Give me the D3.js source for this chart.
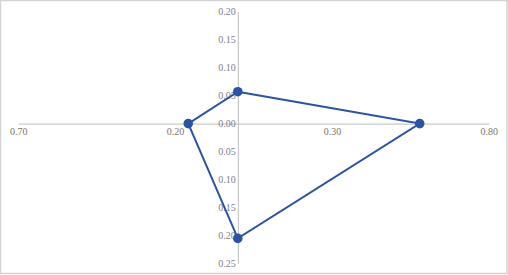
<!DOCTYPE html>
<html>
<head>
<meta charset="utf-8">
<script src="https://cdn.jsdelivr.net/npm/d3@7"></script>
<style>
  body { margin: 0; background: #fff; }
  svg text { font-family: "Liberation Serif", "DejaVu Serif", serif; }
</style>
</head>
<body>
<svg id="chart" width="508" height="275"></svg>
<script>
// --------------------------
// DATA
// --------------------------
const xValues = [0, 0.58, 0, -0.158];
const yValues = [0.057, 0, -0.205, 0];
const xTicks = [-0.70, -0.20, 0.30, 0.80];
const yTicks = [0.20, 0.15, 0.10, 0.05, 0.00, -0.05, -0.10, -0.15, -0.20, -0.25];

const points = xValues.map((x, i) => ({ x: x, y: yValues[i] }));

// --------------------------
// CHART
// --------------------------
const svg = d3.select("#chart");
const width = +svg.attr("width");
const height = +svg.attr("height");

// outer frame
svg.append("rect")
    .attr("x", 0.5).attr("y", 0.5)
    .attr("width", width - 1.5).attr("height", height - 2)
    .attr("fill", "none")
    .attr("stroke", "#d4d4d4")
    .attr("stroke-width", 1.5);

const x = d3.scaleLinear()
    .domain([-0.70, 0.80])
    .range([18.3, 488.7]);

const y = d3.scaleLinear()
    .domain([-0.25, 0.20])
    .range([263.6, 11.6]);

const fmt = d => d3.format(".2f")(Math.abs(d));

// x axis (through y = 0)
const xAxis = svg.append("g")
    .attr("transform", `translate(0,${y(0)})`)
    .call(d3.axisBottom(x).tickValues(xTicks).tickSize(0).tickPadding(4).tickFormat(fmt));
xAxis.select(".domain").attr("stroke", "#bdbdbd");
xAxis.selectAll("text")
    .attr("fill", "#7f746a")
    .attr("font-size", 10)
    .attr("font-family", "Liberation Serif, serif");

// y axis (through x = 0)
const yAxis = svg.append("g")
    .attr("transform", `translate(${x(0)},0)`)
    .call(d3.axisLeft(y).tickValues(yTicks).tickSize(0).tickPadding(2).tickFormat(fmt));
yAxis.select(".domain").attr("stroke", "#bdbdbd");
yAxis.selectAll("text")
    .attr("fill", "#80808a")
    .attr("font-size", 10)
    .attr("font-family", "Liberation Serif, serif");

// polygon
const line = d3.line()
    .x(d => x(d.x))
    .y(d => y(d.y))
    .curve(d3.curveLinearClosed);

svg.append("path")
    .datum(points)
    .attr("d", line)
    .attr("fill", "none")
    .attr("stroke", "#2b539f")
    .attr("stroke-width", 2);

// markers
svg.append("g")
    .selectAll("circle")
    .data(points)
    .enter()
    .append("circle")
    .attr("cx", d => x(d.x))
    .attr("cy", d => y(d.y))
    .attr("r", 4.8)
    .attr("fill", "#2b539f");
</script>
</body>
</html>
